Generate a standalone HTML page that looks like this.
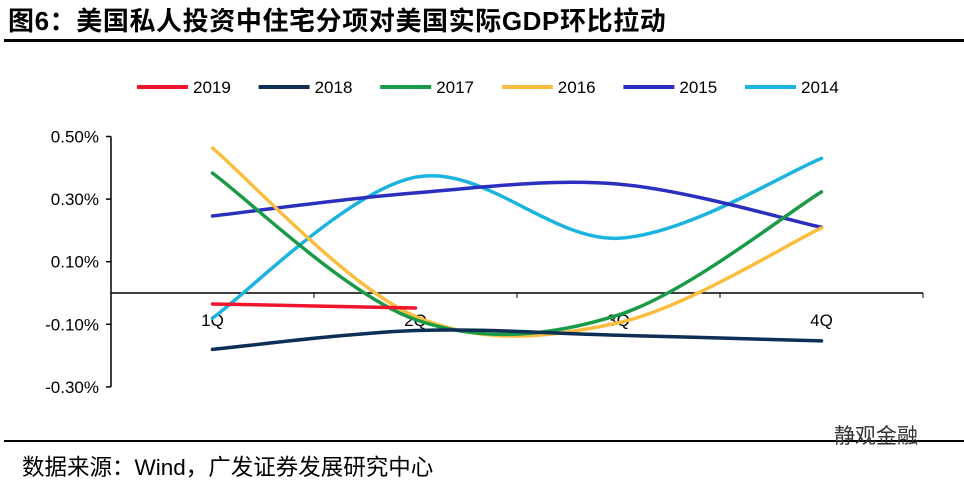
<!DOCTYPE html>
<html><head><meta charset="utf-8"><style>
body{margin:0;width:964px;height:479px;background:#fff;overflow:hidden;position:relative;font-family:"Liberation Sans","Noto Sans CJK SC",sans-serif}
.title{position:absolute;left:8px;top:1px;font-size:26px;letter-spacing:0.6px;font-weight:bold;color:#000;white-space:nowrap}
.rule{position:absolute;left:4px;right:0;height:3px;background:#000}
.src{position:absolute;left:22px;top:450px;font-size:22.5px;color:#000;white-space:nowrap}
.wm{position:absolute;left:834px;top:420px;font-size:21px;color:#333}
</style></head><body>
<div class="title">图6：美国私人投资中住宅分项对美国实际GDP环比拉动</div>
<div class="rule" style="top:39px"></div>
<svg id="chart" width="964" height="479" style="position:absolute;left:0;top:0"></svg>
<div class="rule" style="top:440px;height:2px"></div>
<div class="src">数据来源：Wind，广发证券发展研究中心</div>
<div class="wm">静观金融</div>
<script>
const categories=["1Q","2Q","3Q","4Q"];
const seriesNames=["2019","2018","2017","2016","2015","2014"];
const seriesColors=["#f0142d","#0d2e55","#1a9a47","#fbbd3f","#2a2fbf","#1bb3e0"];
const v2019=[-0.035,-0.048];
const v2018=[-0.18,-0.12,-0.135,-0.153];
const v2017=[0.383,-0.085,-0.07,0.323];
const v2016=[0.463,-0.075,-0.095,0.208];
const v2015=[0.246,0.32,0.348,0.21];
const v2014=[-0.08,0.37,0.175,0.43];
const seriesValues=[v2019,v2018,v2017,v2016,v2015,v2014];
const yTicks=[0.5,0.3,0.1,-0.1,-0.3];
const yTickLabels=["0.50%","0.30%","0.10%","-0.10%","-0.30%"];
const NS="http://www.w3.org/2000/svg";
const svg=document.getElementById('chart');
const X0=111,X1=923,Y0=293,PX=313;
const xs=i=>X0+(X1-X0)/categories.length*(i+0.5);
const ys=v=>Y0-v*PX;
function mk(t,a){const e=document.createElementNS(NS,t);for(const k in a)e.setAttribute(k,a[k]);svg.appendChild(e);return e;}
let e=mk('line',{x1:X0,y1:ys(0.5),x2:X0,y2:ys(-0.3),stroke:'#000','stroke-width':1.5});

e=mk('line',{x1:X0,y1:Y0,x2:X1,y2:Y0,stroke:'#000','stroke-width':1.5});

for(let i=0;i<=categories.length;i++){const x=X0+(X1-X0)/categories.length*i;
 e=mk('line',{x1:x,y1:Y0,x2:x,y2:Y0+5,stroke:'#000','stroke-width':1});
 }
yTicks.forEach((v,i)=>{
 e=mk('line',{x1:X0-5,y1:ys(v),x2:X0,y2:ys(v),stroke:'#000','stroke-width':1.5});
 
 e=mk('text',{x:X0-12,y:ys(v)+6,'text-anchor':'end','font-size':17,fill:'#000'});e.textContent=yTickLabels[i];
 });
categories.forEach((c,i)=>{
 e=mk('text',{x:xs(i),y:Y0+33,'text-anchor':'middle','font-size':17,fill:'#000'});e.textContent=c;
 });
function path(vals){const p=vals.map((v,i)=>[xs(i),ys(v)]);let d=`M${p[0][0]},${p[0][1]}`;
 for(let i=0;i<p.length-1;i++){const a=p[i-1]||p[i],b=p[i],c=p[i+1],n=p[i+2]||c;
 d+=` C${b[0]+(c[0]-a[0])/6},${b[1]+(c[1]-a[1])/6} ${c[0]-(n[0]-b[0])/6},${c[1]-(n[1]-b[1])/6} ${c[0]},${c[1]}`;}return d;}
for(let s=seriesValues.length-1;s>=0;s--){
 e=mk('path',{d:path(seriesValues[s]),fill:'none',stroke:seriesColors[s],'stroke-width':3.5,'stroke-linecap':'round'});
 }
seriesNames.forEach((n,i)=>{const lx=137+i*121.6;
 e=mk('line',{x1:lx,y1:87,x2:lx+51,y2:87,stroke:seriesColors[i],'stroke-width':4});
 
 e=mk('text',{x:lx+56,y:93,'font-size':17,fill:'#000'});e.textContent=n;
 });
</script>
</body></html>
